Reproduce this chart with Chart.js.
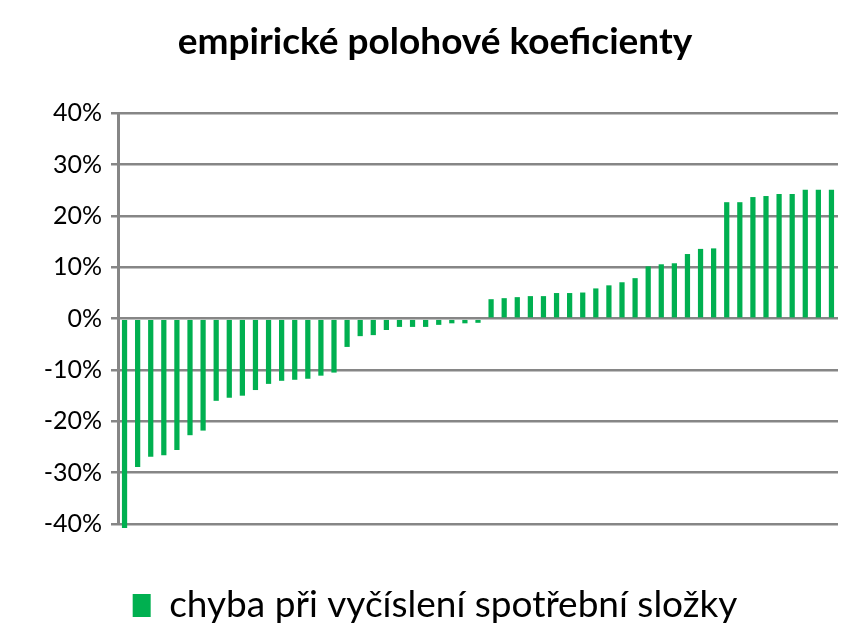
<!DOCTYPE html>
<html>
<head>
<meta charset="utf-8">
<script src="https://cdn.jsdelivr.net/npm/chart.js@4"></script>
<style>
  html, body { margin: 0; padding: 0; background: #fff; }
  #wrap { width: 860px; height: 640px; }
</style>
</head>
<body>
<div id="wrap"><canvas id="chyby"></canvas></div>
<script>
// hodnoty (v procentech)
var chyby = [
    -40.8, -28.9, -26.9, -26.6, -25.6, -22.7, -21.8, -16.0, -15.4, -15.0,
    -13.9, -12.7, -12.1, -11.9, -11.7, -11.1, -10.5, -5.5, -3.4, -3.2,
    -2.2, -1.6, -1.6, -1.6, -1.2, -0.9, -0.9, -0.8,
    3.8, 4.0, 4.2, 4.4, 4.4, 5.0, 5.0, 5.1, 5.9, 6.5,
    7.1, 7.9, 10.2, 10.6, 10.8, 12.6, 13.6, 13.7, 22.7, 22.7,
    23.7, 23.9, 24.3, 24.3, 25.1, 25.1, 25.1
];
var kategorie = chyby.map(function(v, i){ return String(i + 1); });
var nazevSerie = 'chyba při vyčíslení spotřební složky';
var nadpis = 'empirické polohové koeficienty';

var font = 'Lato, "Open Sans", sans-serif';
var seda = '#868686';

var ctx = document.getElementById('chyby').getContext('2d');
var chart = new Chart(ctx, {
    type: 'bar',
    data: {
        labels: kategorie,
        datasets: [{
            label: nazevSerie,
            backgroundColor: '#00B050',
            borderWidth: 0,
            data: chyby.map(function(v){ return v / 100; }),
            barPercentage: 0.4,
            categoryPercentage: 1.0,
            clip: false
        }]
    },
    options: {
        responsive: true,
        maintainAspectRatio: false,
        animation: false,
        layout: {
            padding: { left: 32, right: 22, top: 15, bottom: 6 }
        },
        plugins: {
            title: {
                display: true,
                text: nadpis,
                color: '#000',
                font: { family: font, size: 37, weight: 'bold' },
                padding: { top: 5, bottom: 49 }
            },
            legend: {
                display: true,
                position: 'bottom',
                labels: {
                    color: '#000',
                    font: { family: font, size: 37 },
                    boxWidth: 18,
                    boxHeight: 23,
                    padding: 10
                }
            },
            tooltip: { enabled: false }
        },
        scales: {
            x: {
                display: true,
                afterFit: function(scale){ scale.height = 53; },
                grid: { display: false },
                border: { display: false },
                ticks: { display: false }
            },
            y: {
                min: -0.4,
                max: 0.4,
                afterFit: function(scale){ scale.width = 86; },
                ticks: {
                    stepSize: 0.1,
                    color: '#000',
                    font: { family: font, size: 25 },
                    padding: 9,
                    callback: function(v){ return Math.round(v * 100) + '%'; }
                },
                grid: {
                    color: seda,
                    lineWidth: 2.5,
                    tickLength: 7
                },
                border: {
                    color: seda,
                    width: 3
                }
            }
        }
    }
});
</script>
</body>
</html>
